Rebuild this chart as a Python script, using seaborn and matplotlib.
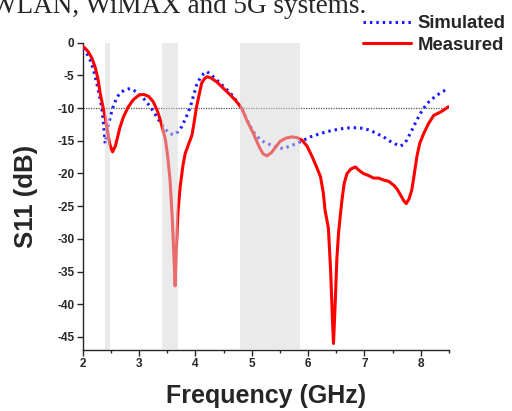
import numpy as np
import pandas as pd
import seaborn as sns
import matplotlib
matplotlib.use("Agg")
import matplotlib.pyplot as plt
from matplotlib.ticker import MultipleLocator

meas_f = [2.00, 2.05, 2.10, 2.16, 2.22, 2.27, 2.31, 2.36, 2.40, 2.44, 2.48, 2.53, 2.58, 2.62, 2.66,
          2.72, 2.81, 2.90, 3.00, 3.08, 3.17, 3.25, 3.32, 3.37, 3.42, 3.47, 3.51, 3.55, 3.59, 3.62,
          3.64, 3.66, 3.69, 3.73, 3.78, 3.82, 3.88, 3.94, 3.98, 4.02, 4.07, 4.11, 4.16, 4.21, 4.28,
          4.38, 4.50, 4.62, 4.72, 4.82, 4.92, 5.03, 5.13, 5.20, 5.27, 5.35, 5.42, 5.50, 5.60, 5.71,
          5.80, 5.89, 5.98, 6.07, 6.15, 6.22, 6.27, 6.30, 6.36, 6.40, 6.43, 6.45, 6.48, 6.51, 6.54,
          6.57, 6.60, 6.64, 6.69, 6.76, 6.84, 6.90, 6.98, 7.07, 7.16, 7.25, 7.34, 7.43, 7.52, 7.58,
          7.64, 7.70, 7.74, 7.79, 7.84, 7.88, 7.93, 7.98, 8.05, 8.14, 8.23, 8.35, 8.49]
meas_db = [-0.6, -0.9, -1.4, -2.3, -3.7, -5.5, -7.7, -9.8, -11.5, -13.5, -15.5, -16.7, -15.8, -14.4, -13.0,
           -11.4, -9.8, -8.7, -8.0, -7.9, -8.2, -9.0, -10.3, -11.6, -13.2, -14.9, -17.5, -21.0, -27.0, -33.0,
           -37.2, -32.0, -26.0, -22.0, -18.7, -16.9, -15.5, -14.1, -12.0, -9.8, -7.8, -6.2, -5.5, -5.2, -5.4,
           -6.0, -7.0, -8.0, -8.9, -10.0, -12.0, -13.9, -15.9, -17.0, -17.3, -16.8, -16.0, -15.1, -14.6, -14.4,
           -14.5, -14.9, -15.8, -17.4, -19.0, -20.5, -23.0, -25.6, -28.4, -35.0, -42.0, -46.0, -40.0, -33.0, -29.1,
           -26.5, -24.1, -21.5, -20.0, -19.3, -19.0, -19.5, -20.0, -20.3, -20.7, -20.7, -21.0, -21.2, -21.8, -22.4,
           -23.3, -24.2, -24.6, -23.9, -22.5, -20.3, -17.4, -15.4, -13.9, -12.3, -11.1, -10.6, -9.8]

sim_f = [2.00, 2.07, 2.13, 2.19, 2.25, 2.30, 2.34, 2.37, 2.40, 2.43, 2.45, 2.50, 2.54, 2.60, 2.66,
         2.75, 2.84, 2.93, 3.02, 3.11, 3.20, 3.29, 3.37, 3.45, 3.53, 3.61, 3.69, 3.76, 3.84, 3.91,
         3.97, 4.02, 4.09, 4.15, 4.20, 4.28, 4.38, 4.50, 4.62, 4.72, 4.82, 4.90, 4.97, 5.06, 5.15,
         5.24, 5.33, 5.45, 5.56, 5.68, 5.80, 5.92, 6.04, 6.18, 6.33, 6.50, 6.63, 6.75, 6.87, 6.98,
         7.10, 7.22, 7.34, 7.46, 7.55, 7.64, 7.70, 7.75, 7.84, 7.93, 8.02, 8.11, 8.20, 8.29, 8.38, 8.47]
sim_db = [-0.9, -1.6, -2.6, -4.1, -6.2, -8.2, -10.0, -12.5, -15.4, -14.0, -12.8, -11.0, -9.8, -8.5, -7.7,
          -7.2, -7.0, -7.4, -8.0, -8.8, -9.8, -11.0, -12.1, -13.1, -13.8, -14.1, -13.6, -12.8, -11.3, -9.8,
          -8.0, -6.5, -5.3, -4.7, -4.4, -4.9, -5.7, -6.7, -7.7, -8.8, -10.0, -11.5, -12.8, -14.0, -14.8,
          -15.3, -15.6, -16.0, -16.2, -15.8, -15.4, -14.9, -14.4, -14.0, -13.6, -13.3, -13.1, -13.0, -13.0, -13.1,
          -13.4, -13.9, -14.4, -15.1, -15.5, -15.8, -15.5, -14.9, -13.4, -11.8, -10.4, -9.3, -8.6, -8.0, -7.5, -7.1]

bands = [(2.40, 2.48), (3.40, 3.70), (4.80, 5.85)]
x_ticks = [2, 3, 4, 5, 6, 7, 8]
y_ticks = [0, -5, -10, -15, -20, -25, -30, -35, -40, -45]

sns.set_style("ticks")
plt.rcParams['font.family'] = ['Liberation Sans', 'DejaVu Sans']
plt.rcParams['font.weight'] = 'bold'
plt.rcParams['axes.unicode_minus'] = False

fig = plt.figure(figsize=(5.12, 4.11), dpi=100)
ax = fig.add_axes([0.1615, 0.1484, 0.877 - 0.1615, 0.896 - 0.1484])

df_sim = pd.DataFrame({"f": sim_f, "db": sim_db})
df_meas = pd.DataFrame({"f": meas_f, "db": meas_db})

ax.axhline(-10, color='#555555', ls=(0, (1, 1)), lw=0.9, zorder=1)
sns.lineplot(data=df_sim, x="f", y="db", ax=ax, color="#1a1aff", lw=2.2,
             linestyle=(0, (0.8, 1.3)), sort=False, label="Simulated", zorder=3)
sns.lineplot(data=df_meas, x="f", y="db", ax=ax, color="#ff0000", lw=2.2,
             sort=False, label="Measured", zorder=3)
for a, b in bands:
    ax.axvspan(a, b, color='#d6d6d6', alpha=0.5, lw=0, zorder=4)

ax.set_xlim(2, 8.5)
ax.set_ylim(-47, 0)
ax.set_xticks(x_ticks)
ax.set_yticks(y_ticks)
ax.xaxis.set_minor_locator(MultipleLocator(0.5))
ax.tick_params(axis='both', which='major', length=4, width=1, labelsize=8.5, direction='out', pad=2)
ax.tick_params(axis='x', which='minor', length=2.5, width=1, direction='out')
for lab in ax.get_xticklabels() + ax.get_yticklabels():
    lab.set_fontweight('bold')
sns.despine(ax=ax)
for s in ['left', 'bottom']:
    ax.spines[s].set_linewidth(1.0)

ax.set_xlabel("Frequency (GHz)", fontsize=18, fontweight='bold', labelpad=10)
ax.set_ylabel("S11 (dB)", fontsize=18.5, fontweight='bold', labelpad=14)

ax.get_legend().remove()
handles, labels = ax.get_legend_handles_labels()
fig.legend(handles, labels, loc='upper right', bbox_to_anchor=(1.02, 1.004),
           frameon=False, handlelength=2.6, handletextpad=0.35, labelspacing=0.25,
           prop={'weight': 'bold', 'size': 13.3})

fig.text(-0.018, 0.968, "WLAN, WiMAX and 5G systems.", fontsize=19.5,
         family=['Liberation Serif', 'DejaVu Serif'], fontweight='normal', va='baseline', ha='left')

fig.savefig("out.png", dpi=100)
